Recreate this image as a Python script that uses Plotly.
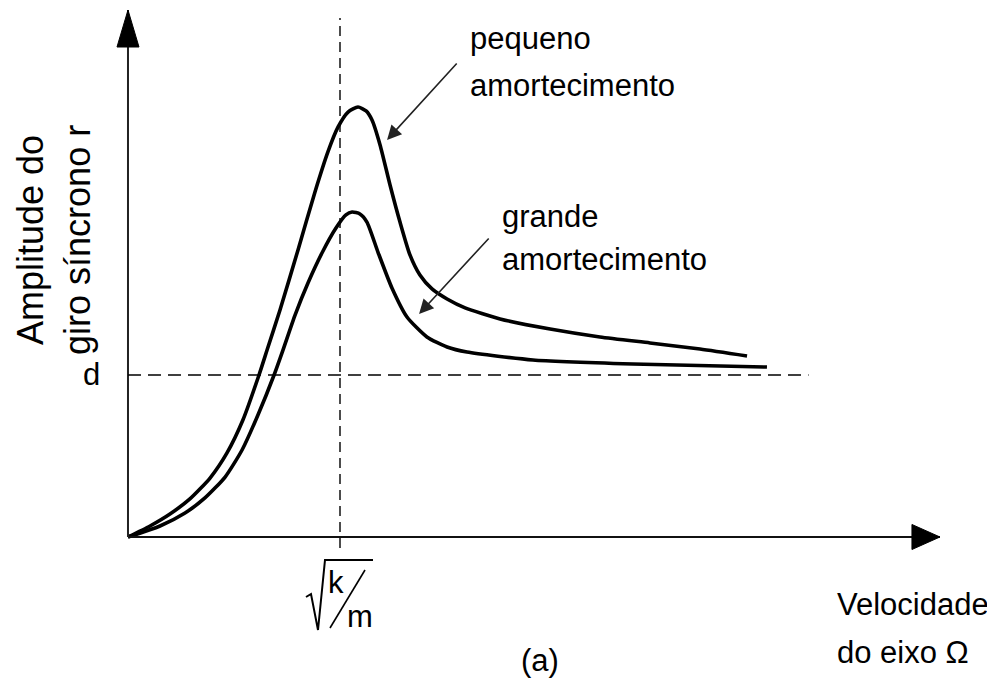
import plotly.graph_objects as go

# Normalised coordinates: x = Omega / sqrt(k/m), y = r / d
small_x = [0, 0.104, 0.198, 0.292, 0.387, 0.467, 0.542, 0.618, 0.656, 0.717, 0.802, 0.882,
           0.943, 0.991, 1.038, 1.085, 1.123, 1.151, 1.189, 1.236, 1.283, 1.330, 1.377,
           1.434, 1.505, 1.590, 1.755, 1.991, 2.226, 2.462, 2.698, 2.920]
small_y = [0, 0.068, 0.142, 0.235, 0.364, 0.519, 0.722, 1.000, 1.154, 1.401, 1.772, 2.130,
           2.377, 2.531, 2.623, 2.654, 2.630, 2.574, 2.420, 2.173, 1.944, 1.741, 1.617,
           1.531, 1.469, 1.414, 1.346, 1.284, 1.235, 1.198, 1.160, 1.117]

large_x = [0, 0.151, 0.269, 0.363, 0.458, 0.538, 0.613, 0.689, 0.731, 0.788, 0.849, 0.915,
           0.981, 1.028, 1.057, 1.094, 1.127, 1.179, 1.245, 1.316, 1.410, 1.505, 1.599,
           1.910, 2.382, 3.014]
large_y = [0, 0.068, 0.148, 0.241, 0.370, 0.537, 0.753, 1.000, 1.154, 1.370, 1.568, 1.753,
           1.907, 1.988, 2.006, 1.994, 1.944, 1.759, 1.537, 1.358, 1.235, 1.173, 1.142,
           1.093, 1.068, 1.049]

x_axis_end = 3.83
y_axis_end = 3.253
d_level = 1.0
d_line_end = 3.21
wn = 1.0
wn_line_top = 3.204
wn_line_bottom = -0.068

FONT = "Liberation Sans, Arial, sans-serif"
fig = go.Figure()

for xs, ys in [(small_x, small_y), (large_x, large_y)]:
    fig.add_trace(go.Scatter(x=xs, y=ys, mode="lines",
                             line=dict(color="black", width=3.6, shape="spline", smoothing=0.6),
                             hoverinfo="skip", showlegend=False))

shapes = []
# axes
shapes.append(dict(type="line", x0=0, y0=0, x1=x_axis_end, y1=0, line=dict(color="#111", width=2)))
shapes.append(dict(type="line", x0=0, y0=0, x1=0, y1=y_axis_end, line=dict(color="#222", width=2)))
# arrow heads
shapes.append(dict(type="path", xsizemode="pixel", ysizemode="pixel", xanchor=0, yanchor=y_axis_end,
                   path="M 0 0 L -11 -37 L 11 -37 Z", fillcolor="black", line=dict(color="black", width=1)))
shapes.append(dict(type="path", xsizemode="pixel", ysizemode="pixel", xanchor=x_axis_end, yanchor=0,
                   path="M 0 0 L -28 12.5 L -28 -12.5 Z", fillcolor="black", line=dict(color="black", width=1)))
# dashed reference lines
shapes.append(dict(type="line", x0=0, y0=d_level, x1=d_line_end, y1=d_level,
                   line=dict(color="black", width=1.6, dash="13px,7px")))
shapes.append(dict(type="line", x0=wn, y0=wn_line_bottom, x1=wn, y1=wn_line_top,
                   line=dict(color="black", width=1.4, dash="10px,6px")))
# radical sign for sqrt(k/m)
shapes.append(dict(type="path", xsizemode="pixel", ysizemode="pixel", xanchor=wn, yanchor=0,
                   path="M -34 -60 L -29 -57 L -22 -93 L -15 -23 L 33 -23",
                   line=dict(color="black", width=2)))
shapes.append(dict(type="path", xsizemode="pixel", ysizemode="pixel", xanchor=wn, yanchor=0,
                   path="M 25 -33 L -10 -91", line=dict(color="black", width=1.6)))

ann = []
def txt(x, y, s, size=31, xanchor="left", angle=0, xshift=0, yshift=0):
    ann.append(dict(x=x, y=y, text=s, showarrow=False, xanchor=xanchor, yanchor="middle",
                    textangle=angle, xshift=xshift, yshift=yshift,
                    font=dict(family=FONT, size=size, color="black")))

txt(1.604, 3.080, "pequeno")
txt(1.604, 2.784, "amortecimento")
txt(1.755, 1.981, "grande")
txt(1.755, 1.716, "amortecimento")
txt(3.335, -0.414, "Velocidade")
txt(3.335, -0.710, "do eixo Ω")
txt(1.943, -0.765, "(a)", xanchor="center")
txt(-0.170, 1.006, "d", xanchor="center")
txt(-0.462, 1.833, "Amplitude do", size=36, xanchor="center", angle=-90)
txt(-0.241, 1.833, "giro síncrono r", size=36, xanchor="center", angle=-90)
txt(wn, 0, "k", xanchor="center", xshift=-4, yshift=-46)
txt(wn, 0, "m", xanchor="center", xshift=20, yshift=-80)

for (tx, ty, hx, hy) in [(1.557, 2.932, 1.222, 2.451), (1.708, 1.852, 1.373, 1.377)]:
    ann.append(dict(x=hx, y=hy, ax=tx, ay=ty, axref="x", ayref="y", xref="x", yref="y",
                    text="", showarrow=True, arrowhead=2, arrowsize=1.8, arrowwidth=1.6,
                    arrowcolor="#222"))

# page body has an 8px margin; figure is 8px smaller so the drawing lands where the reference has it
fig.update_layout(
    width=987, height=685, margin=dict(l=0, r=0, t=0, b=0),
    paper_bgcolor="white", plot_bgcolor="white",
    xaxis=dict(range=[-0.566, 4.0896], visible=False, fixedrange=True),
    yaxis=dict(range=[-0.963, 3.2654], visible=False, fixedrange=True),
    shapes=shapes, annotations=ann,
)
fig.write_html("out.html")
